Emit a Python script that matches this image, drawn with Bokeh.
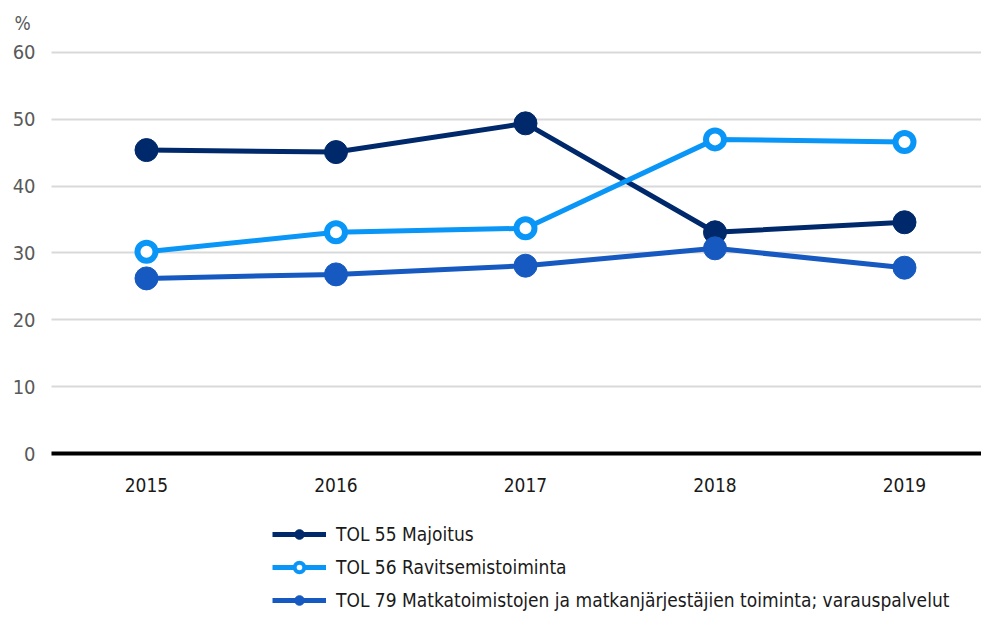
from bokeh.plotting import figure
from bokeh.models import Legend, LegendItem, Label, FixedTicker, Range1d
from bokeh.embed import file_html
from bokeh.resources import INLINE

years = [2015, 2016, 2017, 2018, 2019]
year_labels = ["2015", "2016", "2017", "2018", "2019"]
majoitus = [45.4, 45.1, 49.4, 33.1, 34.6]
ravitsemis = [30.2, 33.1, 33.7, 47.0, 46.6]
matkatoimistot = [26.2, 26.8, 28.1, 30.7, 27.8]
y_ticks = [0, 10, 20, 30, 40, 50, 60]
names = ["TOL 55 Majoitus", "TOL 56 Ravitsemistoiminta",
         "TOL 79 Matkatoimistojen ja matkanjärjestäjien toiminta; varauspalvelut"]

FONT = "'Noto Sans ExtraCondensed', 'Noto Sans Condensed', 'DejaVu Sans Condensed', Roboto, sans-serif"
C_DARK = "#00296B"
C_LIGHT = "#0A96F7"
C_MID = "#1659C0"

X0, X1 = 2014.2296, 2019.4063
Y0, Y1 = -23.79, 67.78
AXIS_X = 2014.499

p = figure(width=981, height=612, output_backend="svg", toolbar_location=None,
           x_range=Range1d(X0, X1), y_range=Range1d(Y0, Y1),
           min_border_left=0, min_border_right=0, min_border_top=0, min_border_bottom=0)
p.outline_line_color = None
p.xgrid.grid_line_color = None
p.ygrid.grid_line_color = None

# x axis drawn at y = 0
p.xaxis.fixed_location = 0
p.xaxis.bounds = (AXIS_X, X1)
p.xaxis.ticker = FixedTicker(ticks=years)
p.xaxis.major_label_overrides = {y: l for y, l in zip(years, year_labels)}
p.xaxis.axis_line_width = 4
p.xaxis.axis_line_color = "black"
p.xaxis.major_tick_line_color = None
p.xaxis.minor_tick_line_color = None
p.xaxis.major_label_text_font = FONT
p.xaxis.major_label_text_font_size = "19px"
p.xaxis.major_label_text_color = "#1a1a1a"
p.xaxis.major_label_standoff = 18

# y axis; its inward ticks serve as the horizontal grid lines
p.yaxis.fixed_location = AXIS_X
p.yaxis.level = "underlay"
p.yaxis.ticker = FixedTicker(ticks=y_ticks)
p.yaxis.axis_line_color = None
p.yaxis.major_tick_in = 940
p.yaxis.major_tick_out = 0
p.yaxis.major_tick_line_color = "#d9d9d9"
p.yaxis.major_tick_line_width = 2
p.yaxis.minor_tick_line_color = None
p.yaxis.major_label_text_font = FONT
p.yaxis.major_label_text_font_size = "20px"
p.yaxis.major_label_text_color = "#595959"
p.yaxis.major_label_standoff = 16

# series
l1 = p.line(years, majoitus, line_color=C_DARK, line_width=5)
p.scatter(years, majoitus, size=23, fill_color=C_DARK, line_color=C_DARK, line_width=1)
l2 = p.line(years, ravitsemis, line_color=C_LIGHT, line_width=5)
p.scatter(years, ravitsemis, size=18, fill_color="white", line_color=C_LIGHT, line_width=6)
l3 = p.line(years, matkatoimistot, line_color=C_MID, line_width=5)
p.scatter(years, matkatoimistot, size=23, fill_color=C_MID, line_color=C_MID, line_width=1)

# legend glyphs (smaller markers, not drawn in the plot)
lg1 = p.scatter([years[0]], [majoitus[0]], size=13, fill_color=C_DARK, line_color=C_DARK, visible=False)
lg2 = p.scatter([years[0]], [ravitsemis[0]], size=10, fill_color="white", line_color=C_LIGHT, line_width=4, visible=False)
lg3 = p.scatter([years[0]], [matkatoimistot[0]], size=13, fill_color=C_MID, line_color=C_MID, visible=False)

legend = Legend(items=[LegendItem(label=names[0], renderers=[l1, lg1]),
                       LegendItem(label=names[1], renderers=[l2, lg2]),
                       LegendItem(label=names[2], renderers=[l3, lg3])],
                location=(272, 0), orientation="vertical",
                glyph_width=54, glyph_height=24, label_height=24, spacing=9,
                label_standoff=10, padding=0, margin=0,
                border_line_color=None, background_fill_alpha=0,
                label_text_font=FONT, label_text_font_size="19px",
                label_text_color="#1a1a1a")
p.add_layout(legend, "center")

pct = Label(x=14, y=590, x_units="screen", y_units="screen", text="%",
            text_font=FONT, text_font_size="19px", text_color="#595959",
            text_baseline="middle", text_align="left")
p.add_layout(pct)

open("out.html", "w").write(file_html(p, INLINE))
